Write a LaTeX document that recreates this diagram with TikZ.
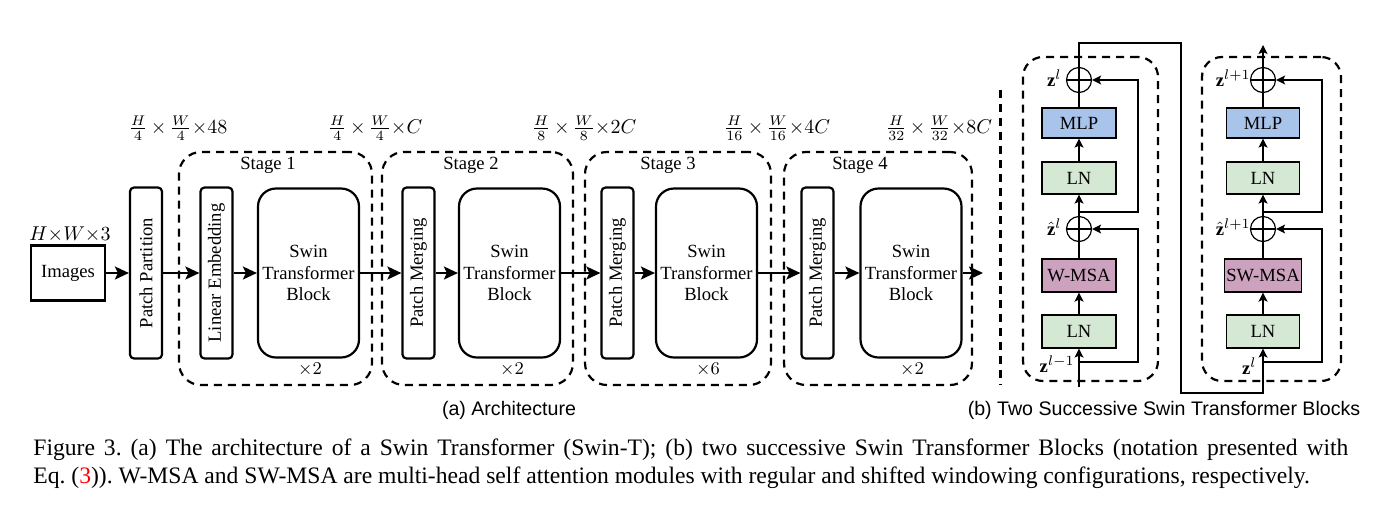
\documentclass[tikz,border=0pt]{standalone}
\usepackage{fontspec}
\setmainfont{Liberation Serif}
\setsansfont{Liberation Sans}
\usetikzlibrary{arrows.meta}
\definecolor{mlpblue}{HTML}{A9C4EB}
\definecolor{lngreen}{HTML}{D5E8D4}
\definecolor{msapink}{HTML}{CDA2BE}
\tikzset{
	flow/.style={line width=1.1pt, -{Stealth[length=7pt,width=6.5pt,inset=1.5pt]}},
	link/.style={line width=0.6pt},
	thinflow/.style={line width=0.6pt, -{Stealth[length=4.5pt,width=4.5pt,inset=1pt]}},
	stagebox/.style={draw, line width=1.1pt, dash pattern=on 4pt off 3pt, rounded corners=11pt, inner sep=0pt},
	tallbox/.style={draw, line width=1.1pt, rounded corners=2pt, rotate=90, minimum width=85.5pt, minimum height=16pt, inner sep=0pt},
	swinbox/.style={draw, line width=1.1pt, rounded corners=9pt, align=center, minimum width=50.5pt, minimum height=84.5pt, inner sep=0pt},
	opbox/.style={draw, line width=0.6pt, minimum width=37pt, minimum height=16pt, inner sep=0pt},
	dimlabel/.style={font=\fontsize{10}{11}\selectfont, inner sep=0pt},
	addnode/.style={draw, line width=0.6pt, circle, minimum size=12.5pt, inner sep=0pt,
		path picture={\draw[line width=0.6pt] (path picture bounding box.north) -- (path picture bounding box.south)
			(path picture bounding box.west) -- (path picture bounding box.east);}},
}
\begin{document}
\begin{tikzpicture}[x=0.5pt, y=-0.5pt, font=\fontsize{9.3}{10.9}\selectfont]
	\useasboundingbox (0,0) rectangle (1396,516);

		\node[stagebox, minimum width=96.5pt, minimum height=116.5pt] (s1) at (275.5,268.5) {};
		\node[stagebox, minimum width=95.5pt, minimum height=116.5pt] (s2) at (477.5,268.5) {};
		\node[stagebox, minimum width=93pt, minimum height=116.5pt] (s3) at (678,268.5) {};
		\node[stagebox, minimum width=94pt, minimum height=116.5pt] (s4) at (878,268.5) {};

		\node (st1) at (268,165) {Stage 1};
		\node (st2) at (471,165) {Stage 2};
		\node (st3) at (668,165) {Stage 3};
		\node (st4) at (860,165) {Stage 4};

		\node[draw, line width=1.1pt, minimum width=37pt, minimum height=27.5pt, inner sep=0pt] (img) at (68,273) {Images};
		\node[tallbox] (pp) at (146,273) {Patch Partition};
		\node[tallbox] (le) at (216.5,273) {Linear Embedding};
		\node[swinbox] (stb1) at (308.5,273) {Swin\\Transformer\\Block};
		\node[tallbox] (pm2) at (418.5,273) {Patch Merging};
		\node[swinbox] (stb2) at (509.5,273) {Swin\\Transformer\\Block};
		\node[tallbox] (pm3) at (617.5,273) {Patch Merging};
		\node[swinbox] (stb3) at (706.5,273) {Swin\\Transformer\\Block};
		\node[tallbox] (pm4) at (817.5,273) {Patch Merging};
		\node[swinbox] (stb4) at (911,273) {Swin\\Transformer\\Block};
		\coordinate (out) at (983,273);

		\draw[flow](img) to (pp);
		\draw[flow](pp) to (le);
		\draw[flow](le) to (stb1);
		\draw[flow](stb1) to (pm2);
		\draw[flow](pm2) to (stb2);
		\draw[flow](stb2) to (pm3);
		\draw[flow](pm3) to (stb3);
		\draw[flow](stb3) to (pm4);
		\draw[flow](pm4) to (stb4);
		\draw[flow](stb4) to (out);

		\node[dimlabel, anchor=base] (d0) at (70,240) {$H{\times}W{\times}3$};
		\node[dimlabel] (d1) at (178,128) {$\frac{H}{4}\,{\times}\,\frac{W}{4}{\times}48$};
		\node[dimlabel] (d2) at (375,128) {$\frac{H}{4}\,{\times}\,\frac{W}{4}{\times}C$};
		\node[dimlabel] (d3) at (584,128) {$\frac{H}{8}\,{\times}\,\frac{W}{8}{\times}2C$};
		\node[dimlabel] (d4) at (777,128) {$\frac{H}{16}\,{\times}\,\frac{W}{16}{\times}4C$};
		\node[dimlabel] (d5) at (939,128) {$\frac{H}{32}\,{\times}\,\frac{W}{32}{\times}8C$};

		\node (r1) at (310,370) {$\times2$};
		\node (r2) at (512,370) {$\times2$};
		\node (r3) at (708,370) {$\times6$};
		\node (r4) at (912,370) {$\times2$};

		\draw[line width=1.5pt, dash pattern=on 4pt off 3pt] (1000,90) -- (1000,385);

		\node[stagebox, rounded corners=10pt, minimum width=67.5pt, minimum height=162pt] (blk1) at (1090.5,219) {};
		\node[stagebox, rounded corners=10pt, minimum width=69.5pt, minimum height=162pt] (blk2) at (1271.5,219) {};

		\node[addnode] (add1) at (1079,80) {};
		\node[opbox, fill=mlpblue, minimum height=15pt] (mlp1) at (1079,123) {MLP};
		\node[opbox, fill=lngreen] (ln1b) at (1079,178) {LN};
		\node[addnode] (add1b) at (1079,229) {};
		\node[opbox, fill=msapink, minimum height=16.5pt] (wmsa) at (1079,275.5) {W-MSA};
		\node[opbox, fill=lngreen, minimum height=16.5pt] (ln1a) at (1079,331.5) {LN};

		\node[addnode] (add2) at (1263,80) {};
		\node[opbox, fill=mlpblue, minimum height=15pt, minimum width=36.5pt] (mlp2) at (1263,123) {MLP};
		\node[opbox, fill=lngreen, minimum width=36.5pt] (ln2b) at (1263,178) {LN};
		\node[addnode] (add2b) at (1263,229) {};
		\node[opbox, fill=msapink, minimum height=16.5pt, minimum width=38.5pt] (swmsa) at (1263,275.5) {SW-MSA};
		\node[opbox, fill=lngreen, minimum height=16.5pt, minimum width=36.5pt] (ln2a) at (1263,331.5) {LN};

		\coordinate (in1) at (1079,387);
		\coordinate (br1) at (1079,362);
		\coordinate (sk1) at (1138,229);
		\coordinate (br2) at (1079,212);
		\coordinate (sk2) at (1138,80);
		\coordinate (up1) at (1079,43);
		\coordinate (dn1) at (1181,393);
		\coordinate (br3) at (1263,362);
		\coordinate (sk3) at (1322,229);
		\coordinate (br4) at (1263,212);
		\coordinate (sk4) at (1322,80);
		\coordinate (out2) at (1263,45);

		\draw[thinflow](in1) to (ln1a);
		\draw[thinflow, line width=1.1pt](ln1a) to (wmsa);
		\draw[link](wmsa) to (add1b);
		\draw[thinflow](add1b) to (ln1b);
		\draw[thinflow](ln1b) to (mlp1);
		\draw[link](mlp1) to (add1);
		\draw[thinflow](br1) -| (sk1) -- (add1b);
		\draw[thinflow](br2) -| (sk2) -- (add1);
		\draw[thinflow](add1) -- (up1) -| (dn1) -| (ln2a);

		\draw[thinflow, line width=1.1pt](ln2a) to (swmsa);
		\draw[link](swmsa) to (add2b);
		\draw[thinflow](add2b) to (ln2b);
		\draw[thinflow](ln2b) to (mlp2);
		\draw[link](mlp2) to (add2);
		\draw[thinflow](br3) -| (sk3) -- (add2b);
		\draw[thinflow](br4) -| (sk4) -- (add2);
		\draw[thinflow](add2) to (out2);

		\node[anchor=east, inner sep=1pt] (z1) at (1064,78) {$\mathbf{z}^{l}$};
		\node[anchor=east, inner sep=1pt] (zh1) at (1064,227) {$\hat{\mathbf{z}}^{l}$};
		\node[anchor=east, inner sep=1pt] (z0) at (1077,364) {$\mathbf{z}^{l-1}$};
		\node[anchor=east, inner sep=1pt] (z2) at (1253,78) {$\mathbf{z}^{l+1}$};
		\node[anchor=east, inner sep=1pt] (zh2) at (1253,227) {$\hat{\mathbf{z}}^{l+1}$};
		\node[anchor=east, inner sep=1pt] (z1b) at (1259,366) {$\mathbf{z}^{l}$};

		\node[font=\sffamily\fontsize{9.8}{11}\selectfont] (suba) at (509,410) {(a) Architecture};
		\node[font=\sffamily\fontsize{9.8}{11}\selectfont] (subb) at (1164,410) {(b) Two Successive Swin Transformer Blocks};

		\node[anchor=north west, inner sep=0pt, text width=657.5pt, align=justify, font=\fontsize{11.8}{14}\selectfont\frenchspacing] (cap) at (33,438) {Figure 3. (a) The architecture of a Swin Transformer (Swin-T); (b) two successive Swin Transformer Blocks (notation presented with\linebreak Eq. (\textcolor{red}{3})). W-MSA and SW-MSA are multi-head self attention modules with regular and shifted windowing configurations, respectively.};
	\end{tikzpicture}
\end{document}
